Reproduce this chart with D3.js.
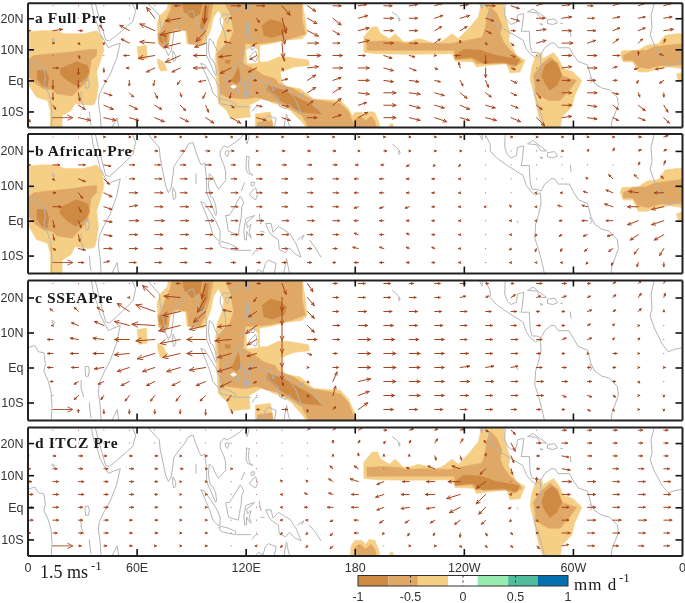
<!DOCTYPE html>
<html>
<head>
<meta charset="utf-8">
<title>Precipitation and wind anomalies</title>
<script src="https://cdn.jsdelivr.net/npm/d3@7"></script>
<style>
  html, body { margin: 0; padding: 0; background: #fff; }
  svg { display: block; filter: blur(0.35px); }
</style>
</head>
<body>
<div id="chart"></div>
<script>
// wind grid
const gridLons = [0, 14, 28, 42, 56, 70, 84, 98, 112, 126, 140, 154, 168, 182, 196, 210, 224, 238, 252, 266, 280, 294, 308, 322, 336, 350]
const gridLats = [24, 20, 16, 12, 8, 4, 0, -4, -8, -12]

// wind components, in tenths of m/s, rows follow gridLats
const fullU = [
  [0, 0, 0, 0, 0, 0, -4, -1, 7, 6, 6, 6, 6, 6, 6, 6, 6, 6, 7, 6, 5, 6, 4, 5, 5, 6],
  [0, 0, 0, 0, 0, -6, -11, -1, -1, 2, 3, 7, 6, 7, 7, 6, 6, 7, 6, 6, 6, 7, 5, 5, 5, 6],
  [2, 7, 3, -3, -7, -11, -15, -7, -3, -1, 2, 8, 5, 8, 7, 6, 5, 5, 4, 3, 7, 7, 6, 5, 5, 7],
  [0, 1, 1, 0, -6, -11, -12, -8, -5, -3, 1, 8, 5, 8, 7, 6, 4, 0, 1, 2, 7, 8, 6, 4, 3, 1],
  [0, 0, 1, 0, -4, -12, -11, -9, -9, -5, 2, 10, 7, 5, 6, 4, 1, -4, 0, 3, 0, 7, 7, 5, 0, -3],
  [0, 4, 0, 0, -2, -6, -6, -9, -8, -6, 1, 8, 7, 8, 7, 5, 2, -1, 0, 3, 0, 7, 7, 3, -3, -6],
  [0, 0, 0, 2, 0, -1, -2, -5, -2, -2, 4, 6, 6, 8, 7, 7, 4, 2, 2, 4, 2, 6, 6, 3, -1, -3],
  [0, 0, 1, 6, 3, 2, 1, -2, -1, 1, 4, 6, 6, 8, 9, 8, 7, 5, 4, 4, 3, 7, 7, 4, 1, 0],
  [0, 2, 5, 7, 6, 5, 4, 2, 2, 4, 5, 4, 6, 6, 9, 8, 7, 7, 7, 5, 4, 7, 7, 4, 5, 3],
  [2, 0, 9, 9, 7, 7, 6, 6, 7, 7, 6, 7, 6, 7, 9, 8, 9, 7, 8, 7, 6, 7, 7, 4, 5, 4]
]
const fullV = [
  [0, 0, 0, 0, 0, 0, 0, -13, 0, 0, -7, -4, 0, 1, 0, 1, 2, 1, 0, -2, 2, 1, 0, 2, 2, 2],
  [0, 0, 0, 0, 0, 8, -2, -2, 0, -3, -11, -4, -5, 2, 0, 0, 2, 2, -2, -2, 0, 1, 0, 1, 1, 1],
  [0, 1, 0, 4, 4, 5, -3, -8, 0, 1, -10, -4, -3, 2, 0, 0, 3, 3, -2, 0, 1, 0, 0, 2, 2, 1],
  [0, 0, -1, -1, 3, 1, -3, -3, 1, -2, -11, 0, 0, 2, 0, 0, 3, 2, -1, -2, 2, 0, 2, 3, 3, 3],
  [0, 0, -2, 0, 0, -2, -5, 0, -1, -3, -4, 0, 0, 0, -2, -1, 0, 0, -6, -1, 0, 0, 0, 0, 3, 1],
  [0, 0, -5, -3, 0, -3, -3, 0, -4, -3, -2, 1, 0, 0, -2, -2, -1, 4, -7, -1, 0, 1, 0, 1, -1, -1],
  [0, -6, -5, -1, -4, -4, -3, -1, -1, 0, 1, 4, 2, 0, -1, -1, -1, -4, -5, -2, 0, 0, 0, 0, -2, -2],
  [0, -5, -6, -2, -3, -4, -3, -4, -4, 0, 2, 4, 4, -1, 0, -1, -2, -4, -3, -2, -4, 0, 0, -1, -3, -3],
  [0, -3, -3, -3, -3, -3, -4, -5, -2, -1, -1, 3, 5, 2, 0, -2, -2, -3, -2, -2, -3, 0, -1, -3, -4, -5],
  [-3, 0, -2, -2, -2, -3, -3, -4, -4, -2, -2, 0, 2, 4, 0, -2, -3, -2, -2, -3, -6, 1, -1, -2, -2, -4]
]

const africanU = [
  [0, 0, 0, 1, 1, 1, 1, 1, 1, 1, 1, 1, 1, 1, 1, 1, 1, 1, 0, 1, 1, 1, 1, 1, 2, 3],
  [0, 0, 0, 1, 2, 2, 3, 3, 2, 1, 2, 2, 2, 1, 2, 1, 1, 1, 0, 0, 0, 1, 1, 1, 2, 2],
  [2, 5, 5, 5, 4, 4, 4, 4, 3, 3, 3, 3, 3, -2, -2, -2, -1, -1, 0, 0, 0, 0, 0, 0, 1, 1],
  [0, 1, 5, 4, 4, 5, 5, 5, 4, 4, 4, 4, 4, -3, -3, -2, -2, -1, 0, 0, 0, 0, -1, -3, -3, -2],
  [0, 2, 3, 6, 6, 6, 5, 5, 5, 4, 4, 4, 4, -3, -3, -2, -2, -1, 0, 0, -1, -1, -3, -5, -7, -7],
  [0, 6, 2, 6, 6, 6, 6, 5, 5, 4, 4, 4, 4, -3, -3, -3, -2, -1, -1, -1, -1, -3, -4, -6, -8, -9],
  [0, 1, 2, 6, 7, 7, 6, 6, 5, 5, 5, 5, 5, -3, -3, -2, -2, -1, 0, -1, -1, -2, -4, -5, -8, -9],
  [0, 1, 1, 6, 6, 6, 6, 5, 5, 5, 5, 4, 4, -3, -3, -2, -2, -1, 0, -1, -1, -2, -3, -4, -6, -7],
  [0, 2, 5, 6, 6, 6, 5, 5, 5, 4, 4, 3, 3, -4, -3, -2, -2, -1, 0, -1, -1, -1, -2, -3, -3, -3],
  [0, 0, 4, 4, 5, 5, 5, 4, 3, 3, 3, 3, 2, -3, -3, -2, -2, -1, 0, -1, -1, -1, -1, -1, -1, 0]
]
const africanV = [
  [0, 0, 0, 0, 0, 0, 0, 0, 0, 0, 0, 0, 0, 0, 0, 0, 0, 0, 0, 0, 0, 0, 0, 0, 0, 1],
  [0, 0, 0, 0, 0, 0, 0, 0, 0, 0, 0, 0, 0, 0, 0, 0, 0, 0, 0, 0, 0, 0, 1, 2, 1, 1],
  [0, 0, 0, -1, 0, 0, 0, 0, 0, 0, 0, 0, 0, 0, 0, -1, -1, -1, 0, 0, 0, 0, 0, 0, 2, 3],
  [0, -1, -2, -4, 0, 0, 0, 0, 0, 0, 0, 0, 0, 0, 0, 0, 0, 0, 0, 0, 0, 0, 1, 3, 3, 2],
  [0, 0, -4, -3, 0, 0, 0, 0, 0, 0, 0, 0, 0, 0, 0, 0, 0, 0, 0, 0, 0, 0, 1, 2, 1, 0],
  [0, 0, -4, -2, 1, 0, 0, 0, 0, 0, 0, 0, 0, -1, -1, -1, 0, 0, 0, 1, 0, 1, 1, 2, 0, -2],
  [0, -5, -5, -1, 0, 0, 0, 0, 0, 0, 0, 0, 0, 0, 0, 0, 0, 0, 0, 0, 0, 0, 0, 0, -3, -3],
  [0, -4, -5, -1, 0, 0, 0, 0, 0, 0, 0, 0, 0, 1, 0, 1, 0, 0, 0, 0, -1, -1, -1, -1, -4, -4],
  [0, -1, -1, 0, 0, 0, 0, 0, 0, 0, 0, 0, 0, 1, 1, 1, 1, 0, 0, -1, -2, -2, -2, -2, -4, -5],
  [0, 0, 0, 1, 0, 0, 0, 0, 0, 0, 0, 0, 0, 0, 0, 0, 0, 0, 0, 0, 0, 0, -1, -2, -3, -3]
]

const sseaU = [
  [0, 0, 0, 0, 0, 0, -3, -3, -3, 3, 3, 4, 3, 5, 5, 3, 4, 4, 2, 2, 4, 3, 2, 2, 2, 1],
  [0, 0, 0, 0, -1, -9, -12, -6, -1, -2, 0, 5, 4, 5, 5, 5, 4, 4, 2, 3, 3, 3, 2, 2, 2, 1],
  [0, -2, -3, -5, -9, -14, -13, -9, -6, -6, 0, 5, 4, 6, 6, 6, 5, 5, 4, 4, 2, 2, 3, 2, 2, 0],
  [0, -1, -5, -7, -11, -17, -16, -12, -10, -8, 0, 5, 5, 7, 7, 6, 6, 5, 5, 4, 3, 2, 2, 1, 1, 0],
  [0, -4, -6, -8, -11, -14, -15, -14, -12, -7, 0, 7, 5, 9, 8, 7, 7, 5, 5, 5, 4, 3, 3, 1, 1, 0],
  [0, -4, -6, -8, -11, -13, -13, -14, -10, -7, 0, 3, 3, 9, 9, 8, 7, 6, 5, 5, 3, 2, 1, 3, 1, 0],
  [0, -4, -5, -7, -9, -9, -10, -12, -10, -6, 0, 1, 4, 9, 9, 8, 7, 7, 6, 5, 4, 3, 2, 2, 1, 1],
  [0, -2, -3, -4, -6, -6, -6, -7, -8, -2, 1, 1, 3, 9, 9, 8, 7, 7, 6, 5, 5, 4, 3, 2, 1, 0],
  [0, 0, -3, -2, -3, -3, -3, -4, -3, 0, 1, 1, 2, 8, 8, 8, 7, 6, 5, 5, 5, 3, 3, 2, 1, 0],
  [0, 0, 0, 0, 0, 0, 0, 0, 1, 2, 4, 0, 2, 7, 7, 6, 6, 5, 5, 4, 3, 2, 2, 1, 1, 0]
]
const sseaV = [
  [0, 0, 0, 0, 0, 0, 0, -11, 0, 0, -8, -6, 0, 0, 0, 0, 0, 0, 0, 0, 0, 0, 0, 1, 2, 3],
  [0, 0, 0, 0, 0, 9, 1, -11, 0, -3, -10, -6, 0, 0, 0, 0, 0, 1, 1, 2, 1, 1, 1, 2, 3, 3],
  [0, 2, 3, 3, 6, 5, -3, -8, 1, -4, -10, -5, 0, 0, 0, 0, 0, 0, 0, 0, 0, 0, 1, 1, 2, 1],
  [0, 0, 2, 3, 3, 1, -4, -3, -1, -6, -11, -5, 0, 0, 0, 0, 0, 0, 0, 0, 0, 0, 1, 1, 0, 0],
  [0, 0, 1, 1, 0, -1, -3, 0, -1, -4, -10, 0, 0, 0, 0, 0, 0, 0, 0, 0, 0, 1, 1, 1, 1, 0],
  [0, 0, 0, 0, -1, -4, -3, 0, -3, -2, -10, -1, 0, 0, 0, 0, 0, 0, 0, 0, 0, 0, 0, 0, 0, 0],
  [0, 0, 0, -1, -3, -3, -3, -2, -3, -1, -9, 0, 0, 0, 0, 0, 0, 1, 1, 1, 0, 0, 0, 0, 0, 0],
  [0, 0, -2, -2, -3, -3, -3, -3, -4, -1, -3, -1, 7, 2, 0, 0, 0, 0, 0, 0, 0, 0, 0, 0, -1, 0],
  [0, 0, -3, -3, -4, -4, -4, -4, -4, 0, 0, -1, 7, 3, 0, 0, 0, 0, 0, 0, 0, -1, -1, -1, 0, -1],
  [0, 0, -2, -3, -3, -3, -3, -4, -3, 0, 0, -2, 2, 5, 0, 0, 0, 0, 0, 0, 0, 0, -1, -1, 0, -1]
]

const itczU = [
  [0, 0, 0, 0, 0, 0, 0, 0, 0, 0, 0, 2, 2, 3, 2, 3, 2, 3, 2, 3, 0, 3, 3, 3, 3, 3],
  [0, 0, 0, 0, 0, 0, 0, 0, 0, 0, 0, 0, 0, 1, 1, 1, 2, 2, -1, 3, 3, 4, 3, 3, 3, 3],
  [1, 2, 3, 2, 2, 2, 1, 1, 0, 0, 0, 0, 0, 0, 0, 0, 1, 1, 0, 2, 2, 5, 3, 3, 3, 3],
  [2, 3, 3, 3, 3, 2, 2, 1, 1, 0, 0, 0, -2, -3, 0, -2, -5, -6, -4, 1, 2, 6, 3, 4, 4, 4],
  [3, 4, 4, 3, 3, 2, 1, 1, 0, 0, -1, -1, -3, -6, -5, -5, -6, -9, -7, 0, 0, 7, 6, 5, 5, 5],
  [4, 4, 4, 3, 3, 2, 1, 1, 0, 0, -1, -2, -3, -5, -6, -6, -7, -10, -7, -1, 1, 6, 6, 5, 5, 5],
  [4, 4, 3, 3, 3, 2, 1, 1, 0, 0, -1, -2, -4, -5, -5, -6, -6, -8, -5, -2, 2, 5, 6, 5, 5, 5],
  [4, 4, 3, 3, 2, 2, 1, 1, 0, 0, -1, -1, -2, -3, -3, -3, -3, -4, -3, -1, 1, 5, 6, 6, 6, 6],
  [2, 3, 3, 3, 2, 2, 1, 1, 0, 0, -1, -1, -2, -3, -1, -1, -1, 0, 1, 1, 1, 6, 5, 5, 5, 4],
  [0, 0, 2, 2, 2, 1, 1, 1, 0, -1, -1, -1, -2, 0, 0, 1, 1, 1, 1, 1, 2, 5, 5, 4, 4, 4]
]
const itczV = [
  [0, 0, 0, 0, 0, 0, 0, 0, 0, 0, 0, 2, 2, 2, 0, 1, 1, 1, -1, -3, 0, 0, 0, 0, 0, 0],
  [0, 0, 0, 0, 0, 0, 0, 0, 0, 0, 0, 0, 2, 2, 1, 2, 3, 3, 2, -6, 0, 0, 0, 0, 0, 0],
  [0, 0, 0, 0, 0, 0, 0, 0, 0, 0, 0, 0, 1, 2, 1, 1, -3, -3, 2, -5, 0, -1, 0, 0, 0, 0],
  [0, 0, 0, 0, 0, 0, 0, 0, 0, 0, 0, 0, 2, 2, 0, 1, 2, 2, -4, -4, 0, -1, 0, 0, 0, 0],
  [0, 0, 0, 0, 0, 0, 0, 0, 0, 0, 1, 1, 2, 2, -2, 0, 0, 0, -5, 0, 3, 0, 0, 0, 0, 0],
  [0, 0, 0, 0, 0, 0, 0, 0, 0, 0, 0, 1, 1, 0, -2, 0, 0, -3, -7, 0, 0, 0, 0, 0, 0, 0],
  [0, 0, 0, 0, 0, 0, 0, 0, 0, 0, 0, 0, 0, 0, -2, -1, -1, -4, -5, -1, 0, 0, 0, 0, 0, 0],
  [0, 0, 0, 0, 0, 0, 0, 0, 0, 0, 0, 0, -1, 0, -2, -2, -2, -3, -3, -1, -1, 0, 0, 0, 0, 0],
  [0, 0, 0, 0, 0, 0, 0, 0, 0, 0, -1, -1, -2, 0, -1, -2, -2, -3, -2, -1, 0, 0, 0, 0, 0, 0],
  [0, 0, 0, 0, 0, 0, 0, 0, 0, 0, -1, -1, -2, 0, 0, 0, 0, -1, -1, -1, -2, 1, 0, 0, 0, 0]
]

// reference arrow, m/s in tenths, sits at 14E 12S in every panel
const refLon = 14
const refLat = -12
const refU = 15

// precipitation anomaly outlines as [lon, lat], light / mid / dark steps
const africaLight = [[[0, 15.6], [7, 16], [16, 16], [20, 15], [31, 15], [38, 16], [41, 14], [42, 9.7], [40, 6], [38, 2.7], [39, -1.6], [38, -5.4], [37, -7.5], [35, -8], [26, -7.5], [24, -9.7], [19, -11.3], [19, -15.5], [12.6, -15.5], [12.6, -9.7], [11, -6.5], [5, -5.4], [0, -1]]]
const africaMid = [[[0, 6.5], [3.5, 8], [12.6, 8.6], [22, 9], [35, 10], [38, 10], [38, 8], [35, 6.5], [34, 2.7], [33, 0], [28, -3], [24.5, -5], [16, -4.3], [13.6, -3], [9, -2.7], [4.4, -1], [0, 1.6]]]
const africaDark = [
  [[5.3, 3.2], [10, 3.2], [11.7, 1], [10.8, -2.2], [8, -1.6], [5.3, 0.5]],
  [[18, 3.8], [27, 6], [33, 4.8], [34, 2.7], [32, 0.5], [26.4, -1.6], [22, 0], [18, 2]]
]
const atlanticLight = [
  [[326, 8], [327, 9.5], [336, 9.7], [340.6, 11.3], [347, 11.8], [350.7, 14.5], [357, 15], [360, 15], [360, 3.8], [352.5, 4.3], [348, 3.8], [340.6, 2.7], [336, 2.7], [333, 5.9], [327.7, 6]],
  [[357, 2], [360, 2.5], [360, 0], [358, 0]]
]
const atlanticMid = [[[327.7, 8], [333, 9.5], [340.6, 9.7], [345, 10.8], [360, 11.8], [360, 5], [355, 4.8], [348, 4.8], [341.5, 3.8], [336, 4.3], [333, 6.5], [327.7, 6.5]]]

const sseaLight = [
  [[71.3, 18.3], [73, 21], [76.8, 23], [77.7, 25.5], [151, 25.5], [152.8, 19.4], [153.7, 15], [151, 13.4], [142.7, 13], [133.6, 11.8], [127.6, 11.3], [127.7, 5.9], [131.7, 5.9], [138, 7.5], [142.7, 7.5], [154.6, 6.5], [155, 4.8], [146.4, 4.3], [139, 2.7], [140, -0.5], [141.8, -2], [150, -2.7], [157.4, -6], [172, -6.5], [176.5, -9], [180, -13], [181, -15.5], [153.7, -15.5], [151, -13.4], [144.6, -9.7], [139, -8], [133.6, -7], [131.7, -4.3], [127, -6.5], [121.7, -8], [122.6, -11.8], [111.6, -12.4], [109.7, -9.7], [105, -7.5], [104, 0], [103.3, 7.5], [104.3, 12.4], [107, 16], [108, 19.4], [105, 22.6], [102.4, 20.4], [100.6, 16], [97, 11.3], [93.3, 11.3], [87.8, 11.8], [86.8, 16], [81.3, 16], [78.6, 15], [77.7, 11.8], [75, 10], [72.2, 11.8]],
  [[60.3, 10.8], [65.4, 11.3], [65.8, 7], [61.2, 6.6]],
  [[71.6, 7], [75, 5.9], [76.8, 3.2], [73, 3], [71.6, 5.4]],
  [[125.3, -10.8], [133.6, -10.2], [135.4, -15.5], [125.3, -15.5]]
]
const sseaHoles = [
  [[120.5, 9.7], [124.4, 11], [126.5, 9.7], [126.5, 5.7], [121, 5.5]],
  [[111.6, -2], [113.4, -1.4], [115, -2], [113.4, -2.6]]
]
const sseaMid = [
  [[107.9, 25.5], [151, 25.5], [151, 19.4], [152.8, 15], [144.6, 13.4], [135.4, 12.4], [126.2, 11.8], [119.8, 11.8], [118.5, 5.4], [124.4, 3.8], [130, 1.6], [136.3, 0.5], [138, -1], [146.4, -2.7], [155.6, -6], [172, -7.5], [176.5, -10], [179, -13.5], [180, -15.5], [155, -15.5], [151, -11.3], [144.6, -9.1], [137.2, -7], [131.7, -6.5], [126.2, -5.4], [119.8, -6], [109.7, -5.4], [106, -4.3], [105.2, 3.2], [104.3, 8.6], [111.6, 13], [113.4, 16], [111.6, 21.5]],
  [[73, 15.6], [75.9, 19.4], [78.6, 22.6], [79.5, 25.5], [102.4, 25.5], [100.2, 19.4], [97.8, 15], [95, 11.8], [88.7, 11.8], [87.8, 16], [81.3, 16.7], [77.7, 15], [77.7, 11.8], [75, 10.2], [72.2, 11.8], [71.6, 15]],
  [[126.5, -13.5], [134.5, -13], [135, -15.5], [126.5, -15.5]]
]
const sseaDark = [
  [[85, 25.5], [96, 25.5], [95, 21.5], [90.5, 19.9], [86.3, 22]],
  [[97.3, 24], [99.7, 24], [98.8, 19.4], [96, 16], [95, 17.2]],
  [[73, 15], [76.8, 15], [76.4, 12.4], [74, 11.8], [72.2, 13.4]],
  [[129, 17.7], [133.6, 19.6], [139, 18.8], [142.7, 17.2], [141, 15], [134.5, 13.8], [130, 14.5]],
  [[113.4, 1], [116, 4.3], [117.4, 0], [115, -1], [111.6, 0]],
  [[108.8, 6.5], [111.6, 6.5], [111.2, 5.4], [108.8, 5.6]],
  [[131.7, -1.6], [141, -3.2], [150, -6], [155.6, -7.5], [162, -10.8], [150, -10.2], [139, -6.5], [131.7, -3.2]]
]

const itczLight = [
  [[185, 9], [185, 14], [189.6, 17.2], [192.4, 17.2], [194.4, 15], [199, 13.4], [202.3, 15], [206.8, 12.4], [209.6, 12.4], [215, 13.4], [218.8, 12.9], [224, 11.8], [228.8, 12.9], [233.5, 15], [237, 13.4], [242.6, 16.7], [248, 20.4], [249.9, 25.5], [261.8, 25.5], [262.7, 20.4], [265.4, 15.6], [264.6, 12.9], [269, 8], [273.7, 6.5], [270.9, 2.7], [265.4, 2.4], [263.6, 5.4], [252.7, 4.8], [247, 4.3], [245.3, 5.9], [235.3, 6.2], [233.5, 8.6], [208.7, 8.4], [192.4, 8.6]],
  [[289.3, 9], [292, 7], [294.8, 3.8], [300, 2.7], [304.9, 0], [301, -4.8], [299.4, -8.6], [293.9, -11.8], [293, -15.5], [283.8, -15.5], [281, -11.3], [279, -5.4], [276.5, 0.5], [277.4, 4.3], [280, 8.6], [283, 8.6], [283.3, 7], [286.6, 8]],
  [[177.5, -15.5], [178, -12], [180, -10.3], [184, -10.3], [186, -11.5], [188, -10], [191, -10.3], [193, -13], [194, -15.5]],
  [[198.6, -15.5], [199.5, -14], [201, -14], [201.4, -15.5]]
]
const itczMid = [
  [[186.7, 12.4], [195, 12.7], [204, 12.4], [209, 11.8], [215.9, 12], [232.5, 11.8], [240, 12.7], [250, 13.8], [251.8, 16.7], [252.6, 20.4], [254.5, 23.7], [258.2, 21.5], [260.9, 17.7], [260, 15], [261.8, 12.4], [265.4, 9.7], [270, 7.5], [272, 5.9], [267.3, 4.3], [262.7, 5.4], [247, 5.4], [244.4, 7], [235.3, 6.7], [234.7, 9.7], [186.7, 9.7]],
  [[287.5, 7.5], [292, 5.4], [293.9, 1.6], [299, 0.5], [302, 0], [298, -3.2], [292.9, -6.5], [286.6, -6.5], [280.1, -4.3], [279, -0.5], [278.3, 1.6], [282, 4.8]],
  [[180, -15.5], [180, -12.5], [183, -11.5], [186, -13], [189, -11.5], [191, -13], [192, -15.5]]
]
const itczDark = [
  [[235.3, 8], [240, 10], [249, 9.7], [258, 8], [265.4, 7.3], [270.6, 6.7], [269, 4.8], [261.6, 5.9], [250.8, 5.4], [244.4, 7.5], [235.3, 6.9]],
  [[288.4, 6.5], [291, 5.4], [293.9, 1.6], [291, -1.6], [287.4, -3.2], [284.7, -1], [282.9, 1.6], [284.7, 4.8]]
]

// coastlines and lakes as [lon, lat], the map backdrop
const coastLines = [
  [[0, 5.6], [4, 6.3], [6, 4.5], [9, 4.2], [9.8, 1], [9, -1], [11.5, -4], [13, -7], [13.5, -11], [13, -15.5]],
  [[35, 25.5], [36, 22], [37, 20], [38.5, 18], [40, 15], [43, 12], [44.5, 10.5], [47, 11.2], [51, 12], [49, 7], [45.5, 2], [42, -1.5], [39.5, -4.5], [39, -7], [40, -11], [40.5, -15.5]],
  [[37, 25.5], [39, 21], [41, 17], [43, 13], [45, 12.7], [49, 14.5], [52, 16], [55, 17.5], [58, 19], [59.5, 22.5], [57, 25.5]],
  [[60, 25.3], [66.5, 25], [67.5, 24], [70, 22.5], [72.5, 21], [73, 18], [74.5, 14], [76, 10], [77.5, 8], [79, 9.5], [80, 13], [80.5, 15.5], [83, 17.5], [86.5, 20], [88.5, 22], [91, 22.5], [92.5, 20], [94.5, 17], [95.5, 16], [97.5, 16.5], [98.5, 12], [98.5, 8], [100.5, 5.5], [103.5, 1.5], [104, 2], [103.5, 4.5], [102, 6.5], [100.5, 7], [99.5, 10], [100, 13.5], [102, 12.5], [103, 11], [105, 9], [106.5, 10], [109, 11.5], [109, 14], [108, 16], [106, 18.5], [106, 20], [108, 21.5], [110, 21], [113, 22], [117, 23.5], [120, 25.5]],
  [[80, 9.5], [81.5, 8], [81.5, 6.5], [80.3, 6], [79.8, 8], [80, 9.5]],
  [[92.7, 13.5], [92.7, 10.5]],
  [[54, 12.6], [54.5, 12.5]],
  [[31.7, 0.3], [33.5, 0.3], [34, -1], [33.5, -2.5], [32, -2.5], [31.7, -1], [31.7, 0.3]],
  [[29.5, -3.5], [29.5, -6], [31, -8.5]],
  [[34, -10], [34.5, -13], [35, -14.5]],
  [[13.5, 13.5], [15, 13], [14.5, 12.5], [13.5, 13], [13.5, 13.5]],
  [[49.3, -12], [50.3, -15.5]],
  [[49.3, -12], [48, -13.5], [46, -15.5]],
  [[95.3, 5.5], [97.5, 5], [100.5, 2.5], [103.5, 0], [106, -3], [105.8, -5.8], [104.5, -5.5], [102, -4], [100.3, -1], [98.5, 1.5], [95.3, 5.5]],
  [[105.2, -6.3], [107, -6], [110.5, -6.5], [114.5, -7.5], [114.5, -8.5], [110, -8], [106.5, -7.5], [105.2, -6.3]],
  [[115, -8.5], [119, -8.5], [123, -8.5]],
  [[123.5, -10], [125.5, -8.5], [127, -8.5]],
  [[109, 1.5], [111, 1.5], [113, 3.2], [115, 5], [117, 7], [119, 5.2], [118, 4], [117.5, 1], [116.5, -2], [116, -4], [113, -3.5], [110.5, -3], [109.5, 0], [109, 1.5]],
  [[119.5, -5.5], [119, -3], [120, 0.5], [122, 1], [125, 1.5], [123, 0.5], [120.5, -0.5], [121, -2], [123, -1], [122, -3], [123, -5], [121.5, -4], [120.5, -3], [120.5, -5.5], [119.5, -5.5]],
  [[120.5, 18.5], [122, 18.3], [121.5, 16], [122, 14], [124, 13], [121, 13.7], [120.2, 15], [120.5, 18.5]],
  [[122, 7.5], [123.5, 8.5], [125.5, 9.5], [126.5, 7.5], [125.5, 6], [124, 6.5], [122, 7.5]],
  [[123, 11], [125, 11], [124.5, 10], [123, 10], [123, 11]],
  [[117.5, 8.5], [119.5, 11]],
  [[121, 25], [122, 24.5], [120.8, 22], [120, 23], [121, 25]],
  [[109, 20], [111, 20], [110, 18.3], [108.7, 19], [109, 20]],
  [[127.5, 2], [128, 0], [128.5, -1], [127.5, 0.5]],
  [[128, -3], [130.5, -3.3]],
  [[131, -0.8], [134, -0.8], [135, -3.3], [138, -1.6], [141, -2.6], [144.5, -3.8], [147, -6], [147.8, -6.7], [150.5, -10.5], [147, -9.5], [144, -7.8], [142, -9.2], [138.5, -8.3], [138, -5.5], [134, -4], [132.5, -2.8], [131, -0.8]],
  [[148.5, -5.5], [152, -4.2], [151, -5.5]],
  [[155, -5.5], [158, -7.5], [161.5, -10.5]],
  [[125, -15.5], [127, -14], [129.5, -14.8], [130.8, -12.3], [132.5, -11.3], [135.5, -12], [136.8, -12.2], [135.8, -15], [139, -16]],
  [[140.8, -16], [141.7, -13], [142.5, -10.8], [143.7, -14.3], [145.3, -15.5]],
  [[200.6, 22], [203, 21], [204, 20.5], [205, 19.5], [204.5, 19], [204, 20]],
  [[248, 25.5], [250, 23.2], [250.3, 25]],
  [[251, 25.5], [254.5, 22], [254.5, 20], [258, 18], [264, 15.8], [268, 14.5], [272.5, 13], [274.5, 10], [277, 8.3], [279.5, 7.3], [282, 8], [282.5, 5], [281, 1.5], [279.5, -1], [279, -5], [281, -8], [283, -12], [284.5, -15.5]],
  [[262.8, 25.5], [262.5, 21], [264, 19], [266, 18], [269, 18.7], [269.5, 21], [273, 21.5], [272, 17], [271.5, 15.8], [276, 15.8], [276.5, 11], [277.5, 9], [280, 9], [282.5, 8.5], [284.5, 10.5], [288, 12], [290, 12], [292, 10.5], [298, 10.5], [300, 8.5], [303, 6], [308, 5], [310, 1], [312, -1], [316, -2.5], [320, -3], [324.5, -5.5], [325, -8], [321.5, -13], [321, -15.5]],
  [[309, 1], [310.5, 0], [309.5, -1]],
  [[275, 22], [278, 23], [283, 21], [285.5, 20], [282.5, 20], [280, 21.8], [276, 22], [275, 22]],
  [[277.5, 25.5], [279, 25], [280, 25.5]],
  [[286, 19.5], [290, 19.8], [291.5, 18.5], [289, 18], [286, 18.3], [286, 19.5]],
  [[282, 18.3], [283.5, 18], [282.5, 17.8], [282, 18.3]],
  [[293, 18.4], [294.5, 18.2]],
  [[298.5, 16], [299, 14]],
  [[269, 0], [270, -0.7]],
  [[345, 25.5], [343, 21], [343.5, 17], [342.5, 14.7], [345, 11], [347, 9], [349, 6.8], [352.5, 4.5], [356, 5.2], [360, 5.6]]
]

// axis ticks
const latTicks = [20, 10, 0, -10]
const latTickLabels = ['20N', '10N', 'Eq', '10S']
const lonTicks = [60, 120, 180, 240, 300]
const lonLabelTicks = [0, 60, 120, 180, 240, 300, 360]
const lonTickLabels = ['0', '60E', '120E', '180', '120W', '60W', '0']

// colorbar
const barBreaks = [-1, -0.71, -0.43, -0.14, 0.14, 0.43, 0.71, 1]
const barColors = ['#ce8a42', '#e0a866', '#f5cf85', '#ffffff', '#98ebb0', '#4fbd9b', '#0570b0']
const barTicks = [-1, -0.5, 0, 0.5, 1]
const barTickLabels = ['-1', '-0.5', '0', '0.5', '1']

const panels = [
  { id: 'a', label: 'a Full Pre', top: 2.7, bottom: 127, u: fullU, v: fullV,
    light: [...africaLight, ...atlanticLight, ...sseaLight, ...itczLight],
    mid: [...africaMid, ...atlanticMid, ...sseaMid, ...itczMid],
    dark: [...africaDark, ...sseaDark, ...itczDark], holes: sseaHoles },
  { id: 'b', label: 'b African Pre', top: 133.5, bottom: 273, u: africanU, v: africanV,
    light: [...africaLight, ...atlanticLight], mid: [...africaMid, ...atlanticMid], dark: africaDark, holes: [] },
  { id: 'c', label: 'c SSEAPre', top: 280, bottom: 420, u: sseaU, v: sseaV,
    light: sseaLight, mid: sseaMid, dark: sseaDark, holes: sseaHoles },
  { id: 'd', label: 'd ITCZ Pre', top: 427, bottom: 555.5, u: itczU, v: itczV,
    light: itczLight, mid: itczMid, dark: itczDark, holes: [] }
]

const width = 685
const height = 603
const pxPerUnit = 1.33
const sansFont = '"Liberation Sans", Arial, sans-serif'
const serifFont = '"Liberation Serif", "Times New Roman", serif'

const svg = d3.select('#chart').append('svg').attr('width', width).attr('height', height)
const x = d3.scaleLinear().domain([0, 360]).range([27.5, 682])

function arrowPath(px, py, u, v) {
  const dx = u * pxPerUnit
  const dy = -v * pxPerUnit
  const len = Math.hypot(dx, dy)
  const p = d3.path()
  p.moveTo(px, py)
  p.lineTo(px + dx, py + dy)
  if (len > 0) {
    const head = Math.max(2, Math.min(len * 0.3, 6))
    const ang = Math.atan2(dy, dx)
    for (const side of [-1, 1]) {
      p.moveTo(px + dx, py + dy)
      p.lineTo(px + dx - head * Math.cos(ang + side * 0.45), py + dy - head * Math.sin(ang + side * 0.45))
    }
  }
  return p.toString()
}

panels.forEach(panel => {
  const y = d3.scaleLinear().domain([-15, 25]).range([panel.bottom, panel.top])
  const g = svg.append('g')

  g.append('clipPath').attr('id', `clip-${panel.id}`)
    .append('rect')
    .attr('x', x(0)).attr('y', panel.top)
    .attr('width', x(360) - x(0)).attr('height', panel.bottom - panel.top)

  const plot = g.append('g').attr('clip-path', `url(#clip-${panel.id})`)
  const area = d3.line().x(d => x(d[0])).y(d => y(d[1])).curve(d3.curveLinearClosed)
  const coast = d3.line().x(d => x(d[0])).y(d => y(d[1]))

  // shading, light first so darker steps sit on top
  const layers = [
    [panel.light, barColors[2]],
    [panel.mid, barColors[1]],
    [panel.dark, barColors[0]],
    [panel.holes, '#ffffff']
  ]
  layers.forEach(([polys, color]) => {
    plot.selectAll(null).data(polys).join('path')
      .attr('d', area)
      .attr('fill', color)
      .attr('stroke', color)
      .attr('stroke-width', 0.6)
      .attr('stroke-linejoin', 'round')
  })

  plot.selectAll(null).data(coastLines).join('path')
    .attr('d', coast)
    .attr('fill', 'none')
    .attr('stroke', '#b4b4b4')
    .attr('stroke-width', 1)

  // wind vectors, tail on the grid point
  const vectors = []
  gridLats.forEach((lat, r) => {
    gridLons.forEach((lon, c) => {
      vectors.push({ lon, lat, u: panel.u[r][c], v: panel.v[r][c] })
    })
  })
  plot.selectAll(null).data(vectors).join('path')
    .attr('d', d => arrowPath(x(d.lon), y(d.lat), d.u, d.v))
    .attr('fill', 'none')
    .attr('stroke', '#a8421a')
    .attr('stroke-width', 1)
    .attr('stroke-linecap', 'round')

  plot.append('path')
    .attr('d', arrowPath(x(refLon), y(refLat), refU, 0))
    .attr('fill', 'none')
    .attr('stroke', '#b5593a')
    .attr('stroke-width', 1)

  // frame and inward ticks
  const axes = [
    d3.axisLeft(y).tickValues(latTicks).tickFormat((d, i) => latTickLabels[i]),
    d3.axisRight(y).tickValues(latTicks).tickFormat(''),
    d3.axisTop(x).tickValues(lonTicks).tickFormat(''),
    d3.axisBottom(x).tickValues(lonTicks).tickFormat('')
  ]
  const origins = [[x(0), 0], [x(360), 0], [0, panel.top], [0, panel.bottom]]
  axes.forEach((axis, i) => {
    const a = g.append('g')
      .attr('transform', `translate(${origins[i][0]},${origins[i][1]})`)
      .call(axis.tickSizeInner(-6.5).tickSizeOuter(0).tickPadding(4))
    a.select('.domain').attr('stroke', '#222').attr('stroke-width', 2)
    a.selectAll('line').attr('stroke', '#111').attr('stroke-width', 1.6)
    a.selectAll('text').attr('fill', '#333').attr('font-family', sansFont).attr('font-size', 12.5)
  })

  g.append('text')
    .attr('x', 35)
    .attr('y', y(20) + 5)
    .attr('font-family', serifFont)
    .attr('font-weight', 'bold')
    .attr('font-size', 15.5)
    .attr('letter-spacing', 0.6)
    .attr('fill', '#1a1a1a')
    .text(panel.label)
})

// longitude labels under the last panel
const lonAxis = d3.axisBottom(x).tickValues(lonLabelTicks).tickFormat((d, i) => lonTickLabels[i]).tickSize(0).tickPadding(6)
const lonG = svg.append('g').attr('transform', 'translate(0,557)').call(lonAxis)
lonG.select('.domain').remove()
lonG.selectAll('text').attr('fill', '#333').attr('font-family', sansFont).attr('font-size', 12.5)

// reference arrow caption
svg.append('text')
  .attr('x', 40).attr('y', 578)
  .attr('font-family', serifFont).attr('font-size', 18).attr('fill', '#1a1a1a')
  .text('1.5 ms')
svg.append('text')
  .attr('x', 91).attr('y', 570)
  .attr('font-family', serifFont).attr('font-size', 13).attr('fill', '#1a1a1a')
  .text('-1')

// colorbar
const barX = d3.scaleLinear().domain([-1, 1]).range([358, 568])
const barTop = 575.5
const barHeight = 10.5
const bar = svg.append('g')
bar.selectAll('rect').data(barColors).join('rect')
  .attr('x', (d, i) => barX(barBreaks[i]))
  .attr('y', barTop)
  .attr('width', (d, i) => barX(barBreaks[i + 1]) - barX(barBreaks[i]))
  .attr('height', barHeight)
  .attr('fill', d => d)
bar.append('rect')
  .attr('x', barX(-1)).attr('y', barTop)
  .attr('width', barX(1) - barX(-1)).attr('height', barHeight)
  .attr('fill', 'none').attr('stroke', '#333').attr('stroke-width', 1)
bar.selectAll('line').data(barTicks.slice(1, -1)).join('line')
  .attr('x1', d => barX(d)).attr('x2', d => barX(d))
  .attr('y1', barTop).attr('y2', barTop + barHeight)
  .attr('stroke', '#222').attr('stroke-width', 1).attr('stroke-dasharray', '2 3')
bar.selectAll('text').data(barTicks).join('text')
  .attr('x', d => barX(d))
  .attr('y', 601)
  .attr('text-anchor', 'middle')
  .attr('font-family', sansFont).attr('font-size', 12.5).attr('fill', '#333')
  .text((d, i) => barTickLabels[i])

svg.append('text')
  .attr('x', 574).attr('y', 590)
  .attr('font-family', serifFont).attr('font-size', 17).attr('letter-spacing', 1).attr('fill', '#1a1a1a')
  .text('mm d')
svg.append('text')
  .attr('x', 619).attr('y', 582)
  .attr('font-family', serifFont).attr('font-size', 13).attr('fill', '#1a1a1a')
  .text('-1')
</script>
</body>
</html>
